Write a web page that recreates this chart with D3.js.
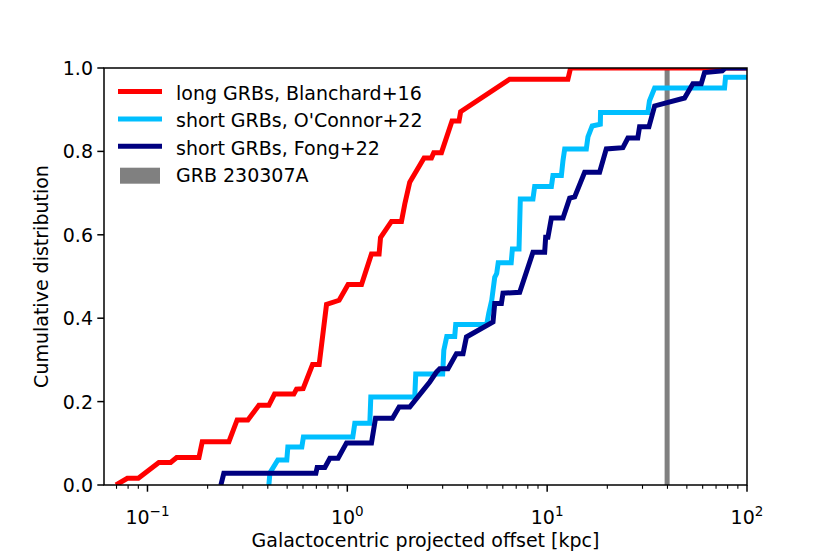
<!DOCTYPE html>
<html lang="en">
<head>
<meta charset="UTF-8">
<title>Galactocentric offsets</title>
<script src="https://d3js.org/d3.v7.min.js"></script>
<style>
    body { margin: 0; background: #fff; }
    svg { display: block; font-family: "DejaVu Sans", sans-serif; }
</style>
</head>
<body>
<svg width="830" height="554"></svg>
<script>
    // long GRBs, Blanchard+16 (offset kpc, cumulative fraction)
    const longX = [0.0696, 0.0793, 0.090, 0.114, 0.1306, 0.140, 0.181, 0.188, 0.2556, 0.281, 0.318, 0.361, 0.405,
        0.4325, 0.540, 0.557, 0.601, 0.670, 0.723, 0.787, 0.910, 1.009, 1.178, 1.321, 1.442, 1.466, 1.663, 1.866,
        1.939, 2.053, 2.421, 2.636, 2.707, 2.958, 3.342, 3.623, 3.69, 6.49, 12.7, 13.1, 150];
    const longY = [0, 0.016, 0.016, 0.054, 0.054, 0.066, 0.066, 0.104, 0.104, 0.156, 0.156, 0.191, 0.191,
        0.218, 0.218, 0.230, 0.231, 0.289, 0.289, 0.433, 0.443, 0.481, 0.481, 0.554, 0.554, 0.593, 0.632, 0.632,
        0.674, 0.726, 0.784, 0.784, 0.797, 0.797, 0.873, 0.873, 0.895, 0.973, 0.973, 1.0, 1.0];

    // short GRBs, O'Connor+22
    const oconX = [0.405, 0.410, 0.449, 0.498, 0.504, 0.592, 0.603, 1.065, 1.090, 1.296, 1.311, 2.175, 2.2, 3.0,
        3.04, 3.145, 3.447, 3.487, 4.983, 5.1, 5.28, 5.465, 5.59, 5.69, 6.607, 6.7, 7.23, 7.34, 8.49, 8.66, 10.5,
        10.69, 11.78, 12.0, 12.24, 15.7, 16.0, 16.8, 18.45, 18.5, 31.9, 32.5, 34.5, 77.2, 78.1, 150];
    const oconY = [0, 0.029, 0.060, 0.060, 0.091, 0.091, 0.115, 0.115, 0.148, 0.148, 0.211, 0.211, 0.266, 0.266,
        0.323, 0.356, 0.356, 0.385, 0.385, 0.411, 0.443, 0.498, 0.507, 0.533, 0.533, 0.566, 0.566, 0.686, 0.686,
        0.716, 0.716, 0.742, 0.742, 0.778, 0.806, 0.806, 0.835, 0.861, 0.865, 0.893, 0.893, 0.921, 0.952, 0.952,
        0.978, 0.978];

    // short GRBs, Fong+22
    const fongX = [0.233, 0.241, 0.696, 0.7065, 0.772, 0.818, 0.899, 0.991, 1.321, 1.384, 1.683, 1.816, 2.053,
        2.393, 2.585, 2.793, 2.9, 3.19, 3.516, 3.793, 3.945, 5.358, 5.465, 5.902, 6.012, 7.286, 8.49, 9.716, 9.83,
        10.09, 10.5, 12.0, 12.96, 13.73, 15.4, 18.3, 19.77, 23.93, 25.35, 28.4, 29.0, 32.3, 34.5, 48.7, 53.6, 59.0,
        61.3, 75.2, 78.1, 150];
    const fongY = [0, 0.028, 0.028, 0.042, 0.042, 0.064, 0.064, 0.101, 0.101, 0.160, 0.160, 0.187, 0.187,
        0.227, 0.247, 0.271, 0.279, 0.279, 0.315, 0.315, 0.355, 0.391, 0.435, 0.435, 0.460, 0.462, 0.558, 0.558,
        0.594, 0.594, 0.640, 0.640, 0.688, 0.691, 0.750, 0.750, 0.806, 0.809, 0.832, 0.832, 0.859, 0.859, 0.909,
        0.928, 0.962, 0.962, 0.989, 0.993, 1.0, 1.0];

    // GRB 230307A offset band (kpc)
    const grbBand = [38.7, 41.0];

    const xTicks = [0.1, 1, 10, 100];
    const xTickExp = ["\u22121", "0", "1", "2"];
    const yTicks = [0, 0.2, 0.4, 0.6, 0.8, 1.0];

    const series = [
        { label: "long GRBs, Blanchard+16", xs: longX, ys: longY, color: "#ff0000" },
        { label: "short GRBs, O'Connor+22", xs: oconX, ys: oconY, color: "#00bfff" },
        { label: "short GRBs, Fong+22", xs: fongX, ys: fongY, color: "#000080" }
    ];

    const pL = 104, pR = 747, pT = 68, pB = 485;
    const fs = 19;
    const svg = d3.select("svg");

    const x = d3.scaleLog().domain([0.0606, 100]).range([pL, pR]);
    const y = d3.scaleLinear().domain([0, 1]).range([pB, pT]);

    svg.append("clipPath").attr("id", "plotclip")
        .append("rect")
        .attr("x", pL).attr("y", pT)
        .attr("width", pR - pL).attr("height", pB - pT);

    const plot = svg.append("g").attr("clip-path", "url(#plotclip)");

    // gray band first, lines on top of it
    plot.append("rect")
        .attr("x", x(grbBand[0]))
        .attr("y", pT)
        .attr("width", x(grbBand[1]) - x(grbBand[0]))
        .attr("height", pB - pT)
        .attr("fill", "#808080");

    const line = d3.line().x(d => x(d[0])).y(d => y(d[1]));

    series.forEach(s => {
        plot.append("path")
            .datum(s.xs.map((v, i) => [v, s.ys[i]]))
            .attr("d", line)
            .attr("fill", "none")
            .attr("stroke", s.color)
            .attr("stroke-width", 5)
            .attr("stroke-linejoin", "miter")
            .attr("stroke-linecap", "butt");
    });

    // x axis (major + minor ticks)
    const minor = [];
    for (let e = -2; e <= 1; e++) {
        for (let m = 2; m <= 9; m++) {
            const v = m * Math.pow(10, e);
            if (v >= 0.0606 && v <= 100) minor.push(v);
        }
    }
    const axisG = svg.append("g");
    axisG.selectAll(".minor").data(minor).enter().append("line")
        .attr("x1", d => x(d)).attr("x2", d => x(d))
        .attr("y1", pB).attr("y2", pB + 3.8)
        .attr("stroke", "#000").attr("stroke-width", 1.1);
    axisG.selectAll(".major").data(xTicks).enter().append("line")
        .attr("x1", d => x(d)).attr("x2", d => x(d))
        .attr("y1", pB).attr("y2", pB + 6.7)
        .attr("stroke", "#000").attr("stroke-width", 1.5);

    const xl = axisG.selectAll(".xlab").data(xTicks).enter().append("text")
        .attr("x", d => x(d))
        .attr("y", 524)
        .attr("text-anchor", "middle")
        .attr("font-size", fs);
    xl.append("tspan").text("10");
    xl.append("tspan").attr("dy", -8.5).attr("font-size", 13.5).text((d, i) => xTickExp[i]);

    // y axis
    axisG.selectAll(".ytick").data(yTicks).enter().append("line")
        .attr("x1", pL - 6.7).attr("x2", pL)
        .attr("y1", d => y(d)).attr("y2", d => y(d))
        .attr("stroke", "#000").attr("stroke-width", 1.5);
    axisG.selectAll(".ylab").data(yTicks).enter().append("text")
        .attr("x", pL - 11)
        .attr("y", d => y(d) + 7)
        .attr("text-anchor", "end")
        .attr("font-size", fs)
        .text(d => d.toFixed(1));

    // frame
    svg.append("rect")
        .attr("x", pL).attr("y", pT)
        .attr("width", pR - pL).attr("height", pB - pT)
        .attr("fill", "none").attr("stroke", "#000").attr("stroke-width", 1.5);

    svg.append("text")
        .attr("x", (pL + pR) / 2).attr("y", 547)
        .attr("text-anchor", "middle").attr("font-size", fs)
        .text("Galactocentric projected offset [kpc]");

    svg.append("text")
        .attr("transform", "translate(48," + ((pT + pB) / 2) + ") rotate(-90)")
        .attr("text-anchor", "middle").attr("font-size", fs)
        .text("Cumulative distribution");

    // legend
    const legend = svg.append("g");
    const rowY = i => 100 + i * 27.4;
    series.forEach((s, i) => {
        legend.append("line")
            .attr("x1", 118).attr("x2", 162)
            .attr("y1", rowY(i) - 8.5).attr("y2", rowY(i) - 8.5)
            .attr("stroke", s.color).attr("stroke-width", 5);
        legend.append("text")
            .attr("x", 176).attr("y", rowY(i))
            .attr("font-size", fs)
            .text(s.label);
    });
    legend.append("rect")
        .attr("x", 120).attr("y", rowY(3) - 14.5)
        .attr("width", 40).attr("height", 16)
        .attr("fill", "#808080");
    legend.append("text")
        .attr("x", 176).attr("y", rowY(3))
        .attr("font-size", fs)
        .text("GRB 230307A");
</script>
</body>
</html>
